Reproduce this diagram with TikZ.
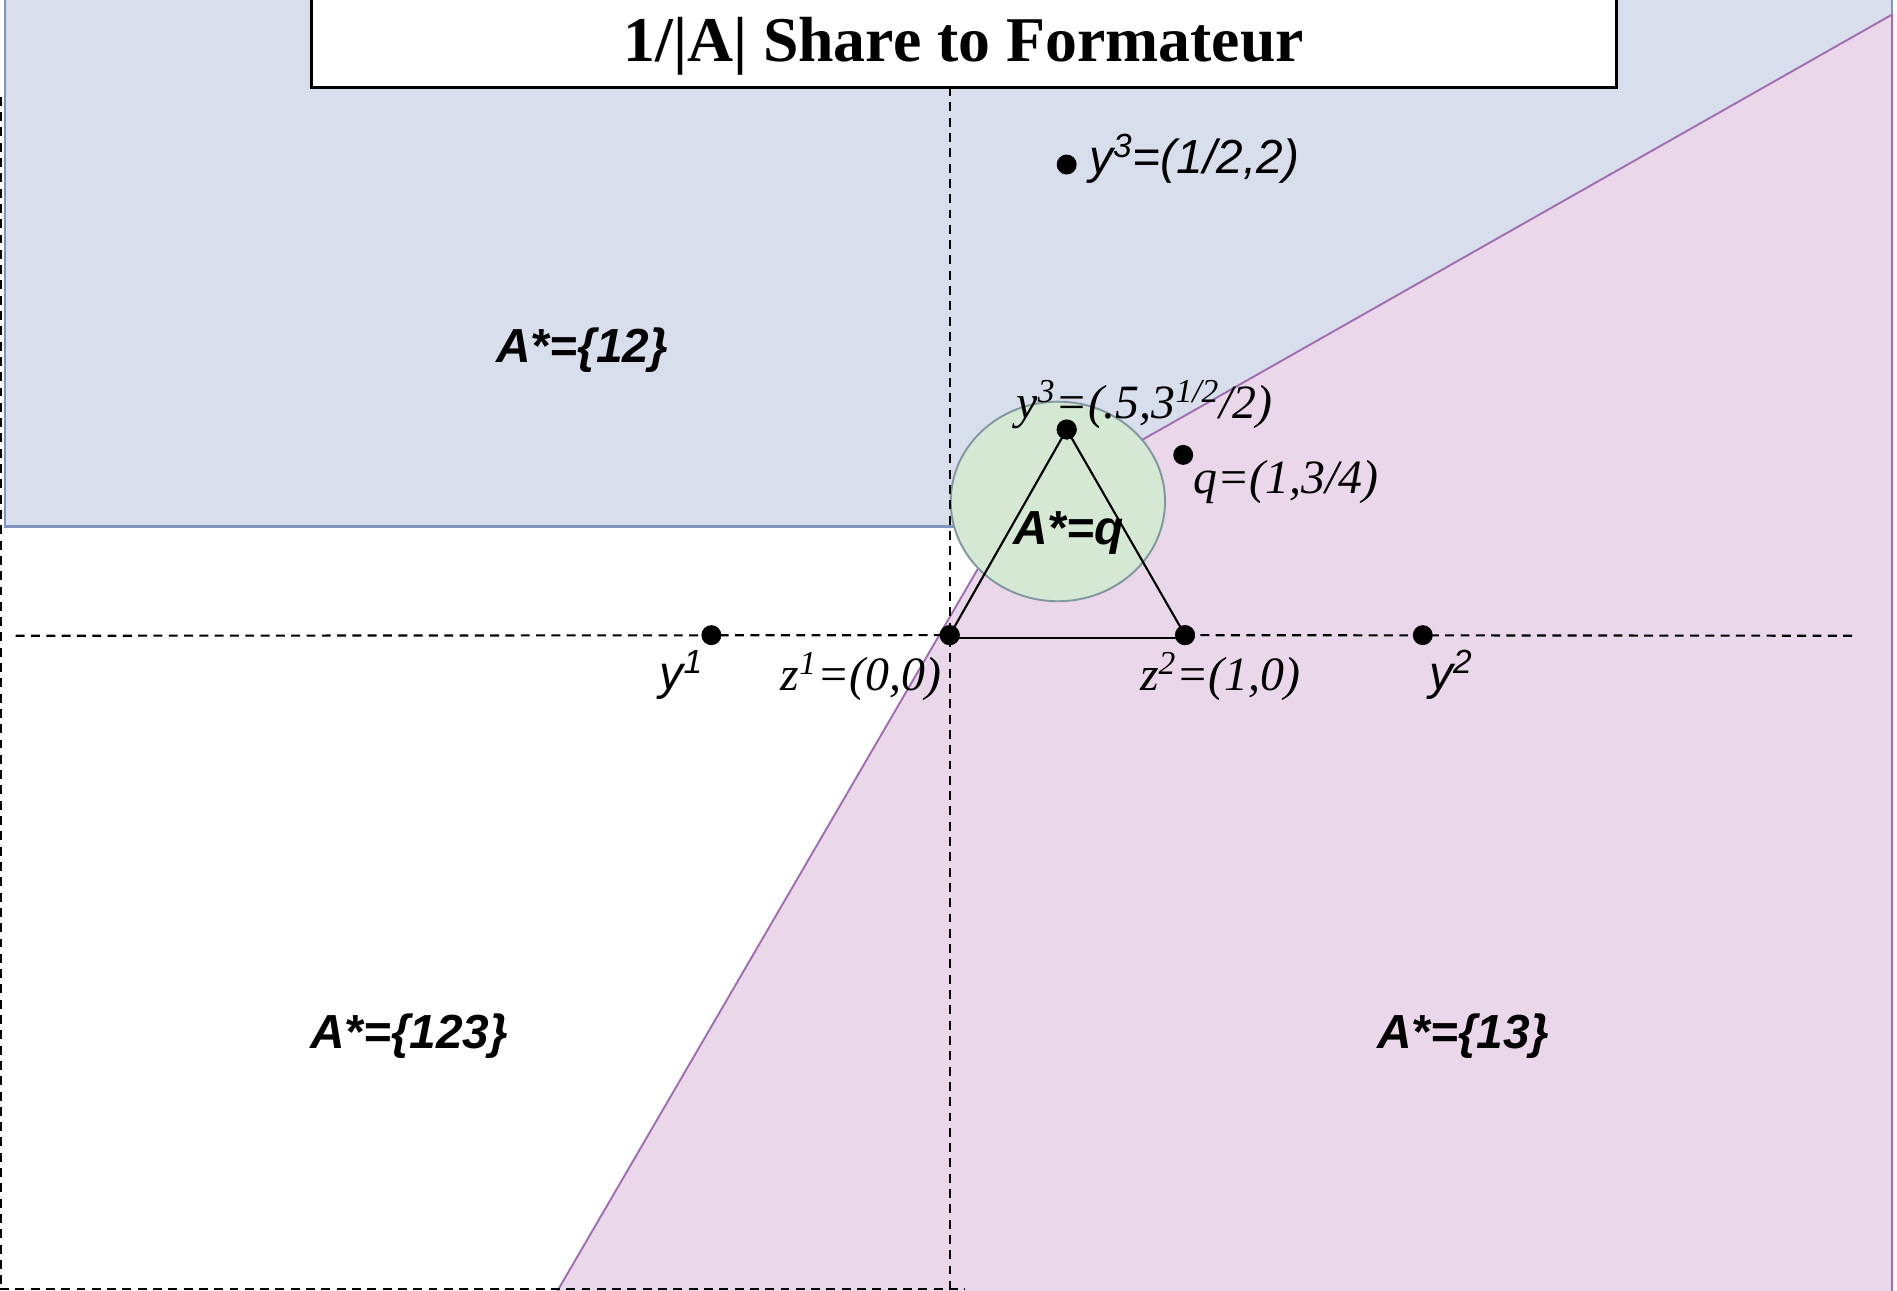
\documentclass[tikz,border=0pt]{standalone}
\usepackage{fontspec}
\setmainfont{Liberation Serif}
\newfontfamily\arialf{Liberation Sans}
\usetikzlibrary{shapes.geometric}
\definecolor{bluefill}{RGB}{217,222,236}
\definecolor{blueedge}{RGB}{128,148,190}
\definecolor{pinkfill}{RGB}{234,216,234}
\definecolor{pinkedge}{RGB}{160,110,176}
\definecolor{greenfill}{RGB}{213,232,212}
\definecolor{greenedge}{RGB}{130,150,160}
\begin{document}
\begin{tikzpicture}[x=0.02cm,y=-0.02cm,
  dot/.style={circle,fill=black,inner sep=0pt,minimum size=0.33cm},
  guide/.style={dash pattern=on 4.2pt off 3pt,line width=1pt},
  region label/.style={font=\arialf\bfseries\itshape\fontsize{22.5}{27}\selectfont,inner sep=0pt,anchor=base west},
  sans label/.style={font=\arialf\itshape\fontsize{22.5}{27}\selectfont,inner sep=0pt,anchor=base west},
  serif label/.style={font=\itshape\fontsize{22.5}{27}\selectfont,inner sep=0pt,anchor=base west}]
\useasboundingbox (0,0) rectangle (1568,1067);
\clip (0,0) rectangle (1568,1067);
% regions
\fill[bluefill] (4,-5) -- (1564,-5) -- (1564,12) -- (818,435) -- (4,435) -- cycle;
\draw[blueedge,line width=1.2pt] (4,-5) -- (4,435) -- (790,435);
\draw[blueedge,line width=1.2pt] (1564,-5) -- (1564,12);
\fill[pinkfill] (1564,12) -- (834,426) -- (459,1070) -- (1564,1070) -- cycle;
\draw[pinkedge,line width=0.9pt] (459,1070) -- (834,426) -- (1564,12) -- (1564,1070);
% circle
\node[ellipse,draw=greenedge,fill=greenfill,line width=0.9pt,inner sep=0pt,
      minimum width=3.544cm,minimum height=3.3cm] (circ) at (874.4,414.5) {};
% dots
\node[dot] (y3top) at (881.7,136) {};
\node[dot] (y3) at (881.7,355) {};
\node[dot] (q) at (978,376) {};
\node[dot] (z1) at (785,525) {};
\node[dot] (z2) at (979.5,525) {};
\node[dot] (y1) at (588,525) {};
\node[dot] (y2) at (1176,525) {};
% guides
\coordinate (gl1) at (1,80);
\coordinate (gl2) at (1,1067);
\coordinate (gv1) at (785,72);
\coordinate (gv2) at (785,1067);
\coordinate (gb1) at (0,1065.5);
\coordinate (gb2) at (798,1065.5);
\coordinate (gh1) at (13,525.5);
\coordinate (gh2) at (1535,525.5);
\draw[guide] (gl1) -- (gl2);
\draw[guide] (gv1) -- (gv2);
\draw[guide] (gb1) -- (gb2);
\draw[guide] (gh1) -- (z1.center);
\draw[guide] (z2.center) -- (gh2);
% title
\node[draw=black,line width=1.4pt,fill=white,inner sep=0pt,
      minimum width=21.58cm,minimum height=1.64cm] (titlebox) at (796.5,31) {};
\node[anchor=base,inner sep=0pt,font=\bfseries\fontsize{30}{36}\selectfont] (title) at (796.5,51) {1/|A| Share to Formateur};
% triangle
\draw[line width=1pt] (z1.center) -- (y3.center) -- (z2.center);
\draw[line width=1pt] ([yshift=-0.04cm]z1.center) -- ([yshift=-0.04cm]z2.center);
\node[dot] at (y3) {};
\node[dot] at (z1) {};
\node[dot] at (z2) {};
% labels
\node[sans label] (ly3top) at (900,143) {y\textsuperscript{3}=(1/2,2)};
\node[serif label] (ly3) at (840,346) {y\textsuperscript{3}=(.5,3\textsuperscript{1/2}/2)};
\node[serif label] (lq) at (986,408) {q=(1,3/4)};
\node[region label] (lAq) at (837,450) {A*=q};
\node[region label] (l12) at (410,300) {A*=\{12\}};
\node[region label] (l123) at (256,867) {A*=\{123\}};
\node[region label] (l13) at (1138,867) {A*=\{13\}};
\node[sans label] (ly1) at (545,570) {y\textsuperscript{1}};
\node[serif label] (lz1) at (645,571) {z\textsuperscript{1}=(0,0)};
\node[serif label] (lz2) at (942,571) {z\textsuperscript{2}=(1,0)};
\node[sans label] (ly2) at (1181,570) {y\textsuperscript{2}};
\end{tikzpicture}
\end{document}
